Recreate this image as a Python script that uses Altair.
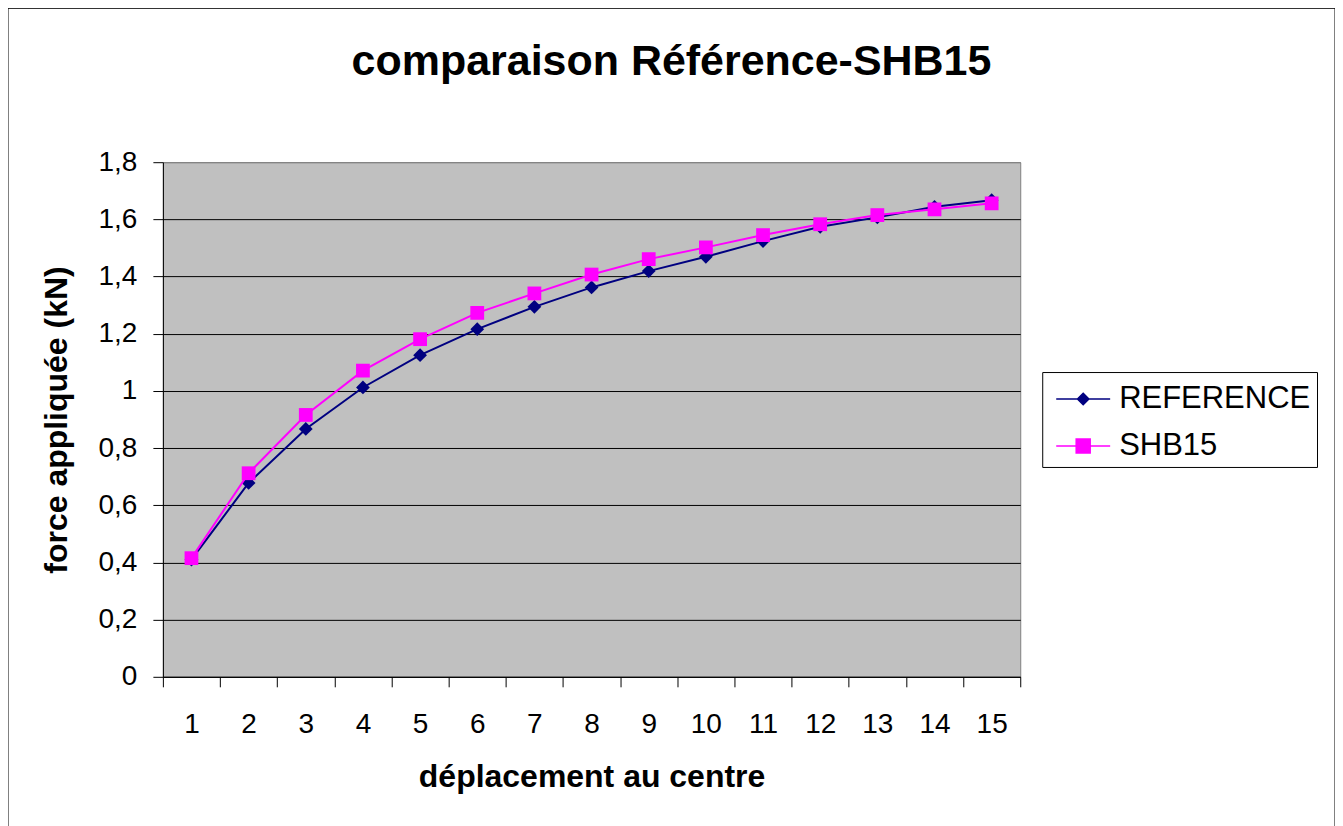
import altair as alt
import pandas as pd

# ---- data ----
deplacement = list(range(1, 16))
reference = [0.410, 0.678, 0.867, 1.012, 1.125, 1.216, 1.294, 1.362, 1.419,
             1.469, 1.524, 1.574, 1.607, 1.644, 1.667]
shb15 = [0.415, 0.712, 0.916, 1.071, 1.181, 1.273, 1.341, 1.407, 1.461,
         1.502, 1.545, 1.583, 1.615, 1.635, 1.656]
series_names = ["REFERENCE", "SHB15"]
series_colors = ["#000080", "#FF00FF"]
y_ticks = [0, 0.2, 0.4, 0.6, 0.8, 1.0, 1.2, 1.4, 1.6, 1.8]

df = pd.DataFrame({
    "x": deplacement + deplacement,
    "y": reference + shb15,
    "serie": [series_names[0]] * len(reference) + [series_names[1]] * len(shb15),
})

FONT = "Liberation Sans"

# legend symbols: a short line with the series marker in its middle
REF_PATH = "M-0.65,0H2.05M0.7,-0.285L0.985,0L0.7,0.285L0.415,0Z"
SHB_PATH = "M-0.65,0H2.05M0.35,-0.35H1.05V0.35H0.35Z"

x_enc = alt.X(
    "x:O",
    scale=alt.Scale(type="band", paddingInner=0, paddingOuter=0),
    axis=alt.Axis(title="déplacement au centre", labelAngle=0, tickBand="extent", grid=False),
)
y_enc = alt.Y(
    "y:Q",
    scale=alt.Scale(domain=[0, 1.8], nice=False, zero=True),
    axis=alt.Axis(
        values=y_ticks,
        labelExpr="replace(format(datum.value, '~g'), '.', ',')",
        title="force appliquée (kN)",
        grid=True,
        gridColor={"condition": {"test": "datum.value >= 1.79", "value": "#808080"}, "value": "black"},
        gridWidth=1,
    ),
)
color_enc = alt.Color(
    "serie:N",
    scale=alt.Scale(domain=series_names, range=series_colors),
    legend=None,
)

base = alt.Chart(df).encode(x=x_enc, y=y_enc, color=color_enc)

# legend carrier: tiny points hidden under the real markers, gives one legend
leg = alt.Legend(title=None, orient="none", legendX=880, legendY=210,
                 labelExpr="datum.label + '\u00a0\u00a0'")
legend_layer = alt.Chart(df).mark_point(opacity=1, size=2).encode(
    x=x_enc,
    y=y_enc,
    fill=alt.Fill("serie:N", scale=alt.Scale(domain=series_names, range=series_colors), legend=leg),
    stroke=alt.Stroke("serie:N", scale=alt.Scale(domain=series_names, range=series_colors), legend=leg),
    shape=alt.Shape("serie:N", scale=alt.Scale(domain=series_names, range=[REF_PATH, SHB_PATH]), legend=leg),
)

ref_line = base.transform_filter("datum.serie === 'REFERENCE'").mark_line(strokeWidth=2)
ref_pts = base.transform_filter("datum.serie === 'REFERENCE'").mark_point(
    shape="diamond", filled=True, size=190, opacity=1)
shb_line = base.transform_filter("datum.serie === 'SHB15'").mark_line(strokeWidth=2)
shb_pts = base.transform_filter("datum.serie === 'SHB15'").mark_point(
    shape="square", filled=True, size=190, opacity=1)

frame = alt.Chart(pd.DataFrame({"f": [0]})).mark_rect(
    fillOpacity=0, stroke="black", strokeWidth=1
).encode(
    x=alt.value(-155), x2=alt.value(1173), y=alt.value(-154), y2=alt.value(700)
)

chart = (
    alt.layer(frame, legend_layer, ref_line, ref_pts, shb_line, shb_pts)
    .properties(
        width=858,
        height=515,
        autosize="none",
        padding={"left": 155, "top": 154, "right": 315, "bottom": 160},
        title="comparaison Référence-SHB15",
    )
    .configure_view(fill="#C0C0C0", stroke="#808080", strokeWidth=1)
    .configure_axis(
        domainColor="black", domainWidth=1, tickColor="black", tickWidth=1, tickSize=10,
        labelFont=FONT, titleFont=FONT, labelColor="black", titleColor="black",
        labelFontSize=28, titleFontSize=32, titleFontWeight="bold",
    )
    .configure_axisX(labelPadding=24, titlePadding=23)
    .configure_axisY(labelPadding=16, titlePadding=25)
    .configure_title(
        font=FONT, fontSize=43, fontWeight="bold", color="black",
        anchor="middle", dx=80, offset=-76, baseline="alphabetic",
    )
    .configure_legend(
        padding=6, strokeColor="black", fillColor="white", cornerRadius=0,
        labelFont=FONT, labelFontSize=31, labelColor="black", labelOffset=29,
        labelLimit=500, symbolSize=1600, symbolStrokeWidth=1.5, rowPadding=11,
    )
)

chart.save("out.html", embed_options={"renderer": "svg", "actions": False})
